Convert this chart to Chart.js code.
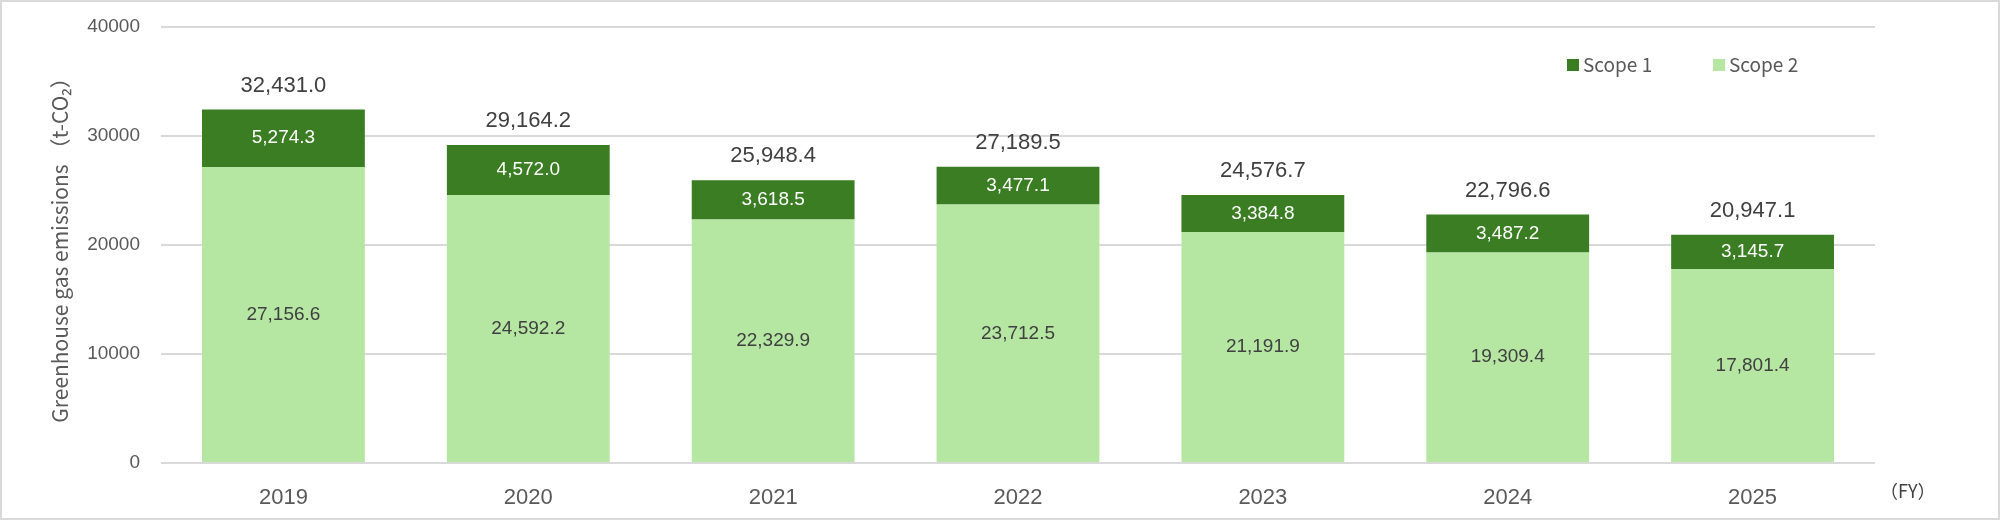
<!DOCTYPE html>
<html>
<head>
<meta charset="utf-8">
<script src="https://cdn.jsdelivr.net/npm/chart.js@4"></script>
<style>
  html, body { margin: 0; padding: 0; background: #fff; }
  #wrap { width: 2000px; height: 520px; position: relative; }
</style>
</head>
<body>
<div id="wrap"><canvas id="c"></canvas></div>
<script>
'use strict';

const years = ['2019', '2020', '2021', '2022', '2023', '2024', '2025'];
const scope1 = [5274.3, 4572.0, 3618.5, 3477.1, 3384.8, 3487.2, 3145.7];
const scope2 = [27156.6, 24592.2, 22329.9, 23712.5, 21191.9, 19309.4, 17801.4];
const totals = [32431.0, 29164.2, 25948.4, 27189.5, 24576.7, 22796.6, 20947.1];
const yTicks = [0, 10000, 20000, 30000, 40000];

const DARK = '#3a7d22';
const LIGHT = '#b5e6a2';
const NUM_FONT = "'Liberation Sans', Arial, sans-serif";
const JP_FONT = "'Noto Sans CJK JP', 'Noto Sans', sans-serif";

const fmt = (v) => v.toLocaleString('en-US', { minimumFractionDigits: 1, maximumFractionDigits: 1 });

// labels, legend, frame, (FY)
const extras = {
  id: 'extras',
  beforeDraw(chart) {
    const ctx = chart.ctx;
    ctx.save();
    ctx.strokeStyle = '#d9d9d9';
    ctx.lineWidth = 2;
    ctx.strokeRect(1, 1, chart.width - 2, chart.height - 2);
    ctx.restore();
  },
  afterDatasetsDraw(chart) {
    const ctx = chart.ctx;
    ctx.save();
    ctx.textAlign = 'center';
    ctx.textBaseline = 'middle';

    // inside labels
    chart.data.datasets.forEach((ds, di) => {
      const meta = chart.getDatasetMeta(di);
      meta.data.forEach((bar, i) => {
        const p = bar.getProps(['x', 'y', 'base'], true);
        ctx.font = '19px ' + NUM_FONT;
        ctx.fillStyle = ds.labelColor;
        ctx.fillText(fmt(ds.data[i]), p.x, (p.y + p.base) / 2);
      });
    });

    // totals above the stack
    const top = chart.getDatasetMeta(chart.data.datasets.length - 1);
    top.data.forEach((bar, i) => {
      const p = bar.getProps(['x', 'y'], true);
      ctx.font = '22px ' + NUM_FONT;
      ctx.fillStyle = '#404040';
      ctx.fillText(fmt(totals[i]), p.x, p.y - 24);
    });

    // legend
    const items = [
      { text: 'Scope 1', color: DARK, x: 1567 },
      { text: 'Scope 2', color: LIGHT, x: 1713 },
    ];
    ctx.textAlign = 'left';
    ctx.font = '19px ' + JP_FONT;
    items.forEach((it) => {
      ctx.fillStyle = it.color;
      ctx.fillRect(it.x, 59, 12, 12);
      ctx.fillStyle = '#595959';
      ctx.fillText(it.text, it.x + 16, 65);
    });

    // unit
    ctx.fillStyle = '#404040';
    ctx.font = '18px ' + JP_FONT;
    ctx.fillText('（FY）', 1880, 491);
    ctx.restore();
  },
};

new Chart(document.getElementById('c'), {
  type: 'bar',
  data: {
    labels: years,
    datasets: [
      { label: 'Scope 2', data: scope2, backgroundColor: LIGHT, labelColor: '#404040' },
      { label: 'Scope 1', data: scope1, backgroundColor: DARK, labelColor: '#ffffff' },
    ],
  },
  options: {
    responsive: true,
    maintainAspectRatio: false,
    animation: false,
    layout: { padding: { top: 27, right: 125, left: 0, bottom: 0 } },
    datasets: {
      bar: { categoryPercentage: 1, barPercentage: 0.665, borderWidth: 0 },
    },
    plugins: {
      legend: { display: false },
      tooltip: { enabled: false },
    },
    scales: {
      x: {
        stacked: true,
        grid: { display: false },
        border: { display: false },
        ticks: {
          color: '#595959',
          font: { family: NUM_FONT, size: 22 },
          padding: 14,
          maxRotation: 0,
        },
        afterFit: (s) => { s.height = 57; },
      },
      y: {
        stacked: true,
        min: 0,
        max: 40000,
        afterBuildTicks: (s) => { s.ticks = yTicks.map((v) => ({ value: v })); },
        grid: { color: '#d9d9d9', lineWidth: 2, drawTicks: false },
        border: { display: false },
        ticks: {
          color: '#595959',
          font: { family: NUM_FONT, size: 19 },
          padding: 21,
          callback: (v) => String(v),
        },
        title: {
          display: true,
          text: 'Greenhouse gas emissions （t-CO₂）',
          color: '#595959',
          font: { family: JP_FONT, size: 21, weight: 'normal' },
          padding: { top: 47, bottom: 0 },
        },
        afterFit: (s) => {
          s.width = 161;
          // let layout padding decide the plot top, not the tick padding
          s.paddingTop = 12;
          s.paddingBottom = 12;
        },
      },
    },
  },
  plugins: [extras],
});
</script>
</body>
</html>
